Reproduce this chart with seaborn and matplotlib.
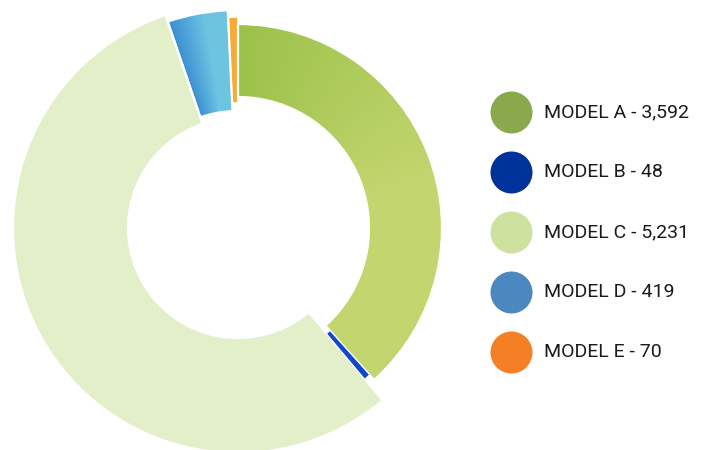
import numpy as np
import matplotlib
matplotlib.use("Agg")
import matplotlib.pyplot as plt
import seaborn as sns
from matplotlib.colors import LinearSegmentedColormap

sns.set_theme(style="white")
plt.rcParams['font.family'] = ['Roboto', 'DejaVu Sans']

# ---- data ----
models = ["MODEL A", "MODEL B", "MODEL C", "MODEL D", "MODEL E"]
values = [3592, 48, 5231, 419, 70]
value_labels = ["3,592", "48", "5,231", "419", "70"]

# ---- styles ----
legend_colors = ["#8aa84c", "#003399", "#cfe19f", "#4a88bf", "#f47f24"]
slice_colors = ["#b5cf60", "#1148c6", "#e3efc9", "#58b0dc", "#f7ab36"]
outer_r = [204, 197, 225, 218, 211]
inner_r = [131, 138, 110, 117, 125]
edge_lw = [1.6, 0.5, 1.6, 1.6, 1.2]
grad = {0: ("#9cc24a", "#c2d56e", 90, 15), 3: ("#3a8dd2", "#6cc4e1", 109, 99)}

W, H = 703, 450
cx, cy = 238, H - 228

fig = plt.figure(figsize=(W / 100, H / 100), dpi=100)
ax = fig.add_axes([0, 0, 1, 1])

wedges, _ = ax.pie(values, colors=slice_colors, startangle=90, counterclock=False,
                   center=(cx, cy), radius=200, frame=True,
                   wedgeprops=dict(width=70, edgecolor="white", linewidth=1.6))
ax.set_xlim(0, W)
ax.set_ylim(0, H)
ax.set_aspect("equal")
ax.axis("off")

for i, w in enumerate(wedges):
    w.set_radius(outer_r[i])
    w.set_width(outer_r[i] - inner_r[i])
    w.set_linewidth(edge_lw[i])
    w.set_zorder(2)
wedges[1].set_zorder(5)

xs = np.linspace(0, W, W)
ys = np.linspace(0, H, H)
X, Y = np.meshgrid(xs, ys)
TH = np.degrees(np.arctan2(Y - cy, X - cx))
for i, (c0, c1, a0, a1) in grad.items():
    t = np.clip((TH - a0) / (a1 - a0), 0, 1)
    cmap = LinearSegmentedColormap.from_list("g%d" % i, [c0, c1])
    im = ax.imshow(t, cmap=cmap, origin="lower", extent=(0, W, 0, H),
                   vmin=0, vmax=1, zorder=1.5, interpolation="bilinear")
    im.set_clip_path(wedges[i])
    wedges[i].set_facecolor("none")
    wedges[i].set_zorder(3)

# legend
lx, ly0, dy = 511, H - 112, 60
for i, (m, v) in enumerate(zip(models, value_labels)):
    y = ly0 - i * dy
    ax.scatter([lx], [y], s=(42 * 0.72) ** 2, color=legend_colors[i], zorder=6,
               linewidths=0)
    ax.text(lx + 33, y, f"{m} - {v}", fontsize=14, color="#1a1a1a",
            va="center", ha="left", zorder=6)

fig.savefig("out.png", dpi=100, facecolor="white")
